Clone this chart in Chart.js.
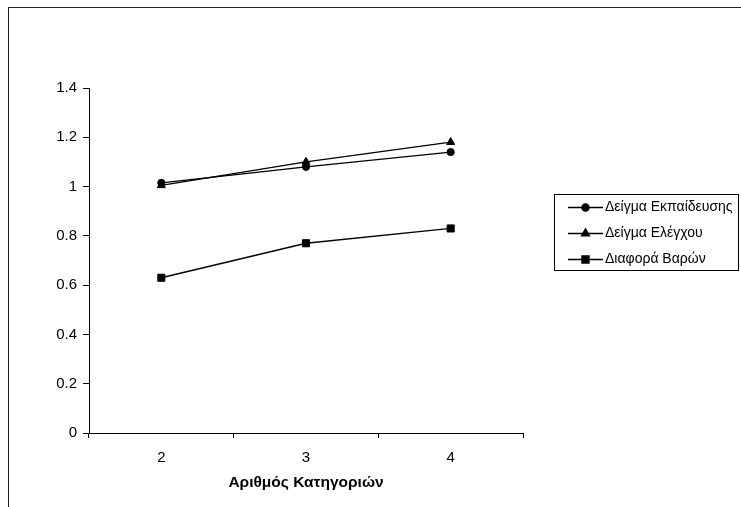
<!DOCTYPE html>
<html><head><meta charset="utf-8">
<script src="https://cdn.jsdelivr.net/npm/chart.js@4"></script>
<style>html,body{margin:0;padding:0;background:#fff}canvas{display:block}</style>
</head><body>
<canvas id="c" width="741" height="507"></canvas>
<script>
const categories = ['2', '3', '4'];
const seriesNames = ['Δείγμα Εκπαίδευσης', 'Δείγμα Ελέγχου', 'Διαφορά Βαρών'];
const trainValues = [1.015, 1.08, 1.14];
const testValues = [1.005, 1.10, 1.18];
const diffValues = [0.63, 0.77, 0.83];
const yTickLabels = ['0', '0.2', '0.4', '0.6', '0.8', '1', '1.2', '1.4'];
const xTitle = 'Αριθμός Κατηγοριών';

const FONT = "'Liberation Sans', Arial, sans-serif";
const styles = ['circle', 'triangle', 'rect'];
const radii = [3.6, 4.6, 5];

const framePlugin = {
  id: 'frame',
  beforeDraw(chart) {
    const ctx = chart.ctx;
    ctx.save();
    ctx.fillStyle = '#fff';
    ctx.fillRect(0, 0, chart.width, chart.height);
    ctx.strokeStyle = '#222';
    ctx.lineWidth = 1;
    ctx.strokeRect(8.5, 7.5, 900, 700);
    ctx.restore();
  }
};

const legendPlugin = {
  id: 'boxLegend',
  afterDraw(chart) {
    const ctx = chart.ctx;
    ctx.save();
    ctx.strokeStyle = '#000';
    ctx.lineWidth = 1;
    ctx.strokeRect(554.5, 194.5, 184, 76);
    ctx.font = '14px ' + FONT;
    ctx.textBaseline = 'middle';
    ctx.fillStyle = '#000';
    chart.data.datasets.forEach((ds, i) => {
      const y = 207 + i * 26;
      ctx.beginPath();
      ctx.moveTo(568, y + 0.5);
      ctx.lineTo(603, y + 0.5);
      ctx.lineWidth = 1.3;
      ctx.stroke();
      Chart.helpers.drawPoint(ctx, {pointStyle: ds.pointStyle, radius: ds.pointRadius, borderWidth: 1}, 585.5, y + 0.5);
      ctx.fillStyle = '#000';
      ctx.fill();
      ctx.fillText(ds.label, 605, y + 0.5);
    });
    ctx.restore();
  }
};

const seriesValues = [trainValues, testValues, diffValues];

new Chart(document.getElementById('c'), {
  type: 'line',
  data: {
    labels: categories,
    datasets: seriesNames.map((name, i) => ({
      label: name,
      data: seriesValues[i],
      borderColor: '#000',
      backgroundColor: '#000',
      borderWidth: 1.3,
      pointStyle: styles[i],
      pointRadius: radii[i],
      pointBackgroundColor: '#000',
      pointBorderColor: '#000',
      pointBorderWidth: 1,
      tension: 0,
      fill: false
    }))
  },
  options: {
    responsive: false,
    animation: false,
    events: [],
    layout: {padding: {left: 0, top: 88, right: 218, bottom: 0}},
    plugins: {legend: {display: false}, tooltip: {enabled: false}},
    scales: {
      x: {
        offset: true,
        grid: {offset: true, drawOnChartArea: false, drawTicks: true, tickLength: 5, color: '#000'},
        border: {display: true, color: '#000', width: 1},
        ticks: {color: '#000', font: {family: FONT, size: 15}, padding: 11, maxRotation: 0},
        title: {display: true, text: xTitle, color: '#000', font: {family: FONT, size: 15.5, weight: 'bold'}, padding: {top: 0, bottom: 15}},
        afterFit(scale) { scale.height = 74; }
      },
      y: {
        min: 0, max: 1.4,
        grid: {drawOnChartArea: false, drawTicks: true, tickLength: 6, color: '#000'},
        border: {display: true, color: '#000', width: 1},
        ticks: {
          stepSize: 0.2, color: '#000', font: {family: FONT, size: 15}, padding: 6,
          callback: (v, idx) => yTickLabels[idx]
        },
        afterFit(scale) { scale.width = 89; }
      }
    }
  },
  plugins: [framePlugin, legendPlugin]
});
</script>
</body></html>
